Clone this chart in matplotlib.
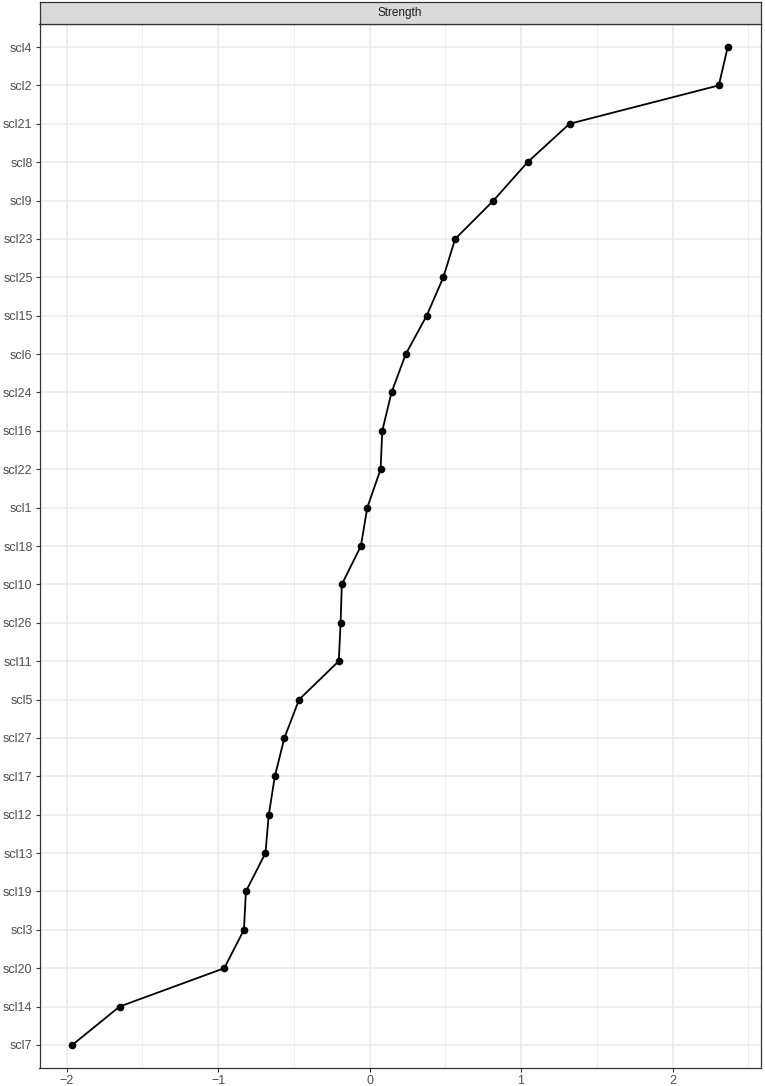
import matplotlib
matplotlib.use("Agg")
import matplotlib.pyplot as plt
from matplotlib.ticker import MultipleLocator

plt.rcParams["font.family"] = ["Liberation Sans", "DejaVu Sans"]

# nodes from top to bottom, with their standardized strength
nodes = ["scl4", "scl2", "scl21", "scl8", "scl9", "scl23", "scl25", "scl15", "scl6",
         "scl24", "scl16", "scl22", "scl1", "scl18", "scl10", "scl26", "scl11", "scl5",
         "scl27", "scl17", "scl12", "scl13", "scl19", "scl3", "scl20", "scl14", "scl7"]
strength = [2.364, 2.305, 1.32, 1.043, 0.818, 0.565, 0.487, 0.377, 0.239,
            0.145, 0.084, 0.073, -0.015, -0.057, -0.183, -0.191, -0.203, -0.465,
            -0.562, -0.625, -0.665, -0.687, -0.816, -0.829, -0.959, -1.65, -1.962]
panel_title = "Strength"

W, H = 765, 1086
fig = plt.figure(figsize=(W / 100, H / 100), dpi=100)

left, right, top, bottom = 39.5, 760.5, 24, 1068
ax = fig.add_axes([left / W, 1 - bottom / H, (right - left) / W, (bottom - top) / H])
strip = fig.add_axes([left / W, 1 - top / H, (right - left) / W, 22 / H])

ypos = list(range(len(nodes)))[::-1]
ax.plot(strength, ypos, color="black", lw=1.3, marker="o", ms=4.5, zorder=3)

xmin, xmax = min(strength), max(strength)
pad = 0.05 * (xmax - xmin)
ax.set_xlim(xmin - pad, xmax + pad)
ax.set_ylim(-0.6, len(nodes) - 1 + 0.6)
ax.set_yticks(ypos)
ax.set_yticklabels(nodes)
ax.set_xticks([-2, -1, 0, 1, 2])
ax.set_xticklabels(["\u22122", "\u22121", "0", "1", "2"])
ax.xaxis.set_minor_locator(MultipleLocator(0.5))

ax.grid(True, which="major", color="#EBEBEB", lw=1.2, zorder=0)
ax.grid(True, which="minor", axis="x", color="#EBEBEB", lw=0.6, zorder=0)
ax.set_axisbelow(True)
ax.tick_params(axis="both", which="major", length=3, width=0.8, color="#333333",
               labelsize=9, labelcolor="#4D4D4D", pad=2)
ax.tick_params(axis="x", which="minor", length=0)
for s in ax.spines.values():
    s.set_color("#333333")
    s.set_linewidth(0.9)

strip.set_facecolor("#D9D9D9")
strip.set_xticks([])
strip.set_yticks([])
for s in strip.spines.values():
    s.set_color("#333333")
    s.set_linewidth(0.9)
strip.text(0.5, 0.5, panel_title, ha="center", va="center", fontsize=8.5,
           color="#1A1A1A", transform=strip.transAxes)

fig.savefig("out.png", dpi=100)
